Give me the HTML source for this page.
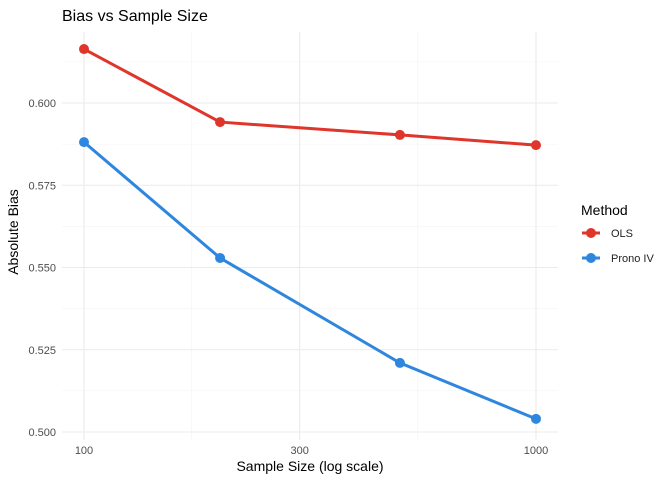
<!DOCTYPE html>
<html><head><meta charset="utf-8"><style>
body{margin:0;background:#fff;font-family:"Liberation Sans",sans-serif}
</style></head><body>
<svg width="672" height="480" xmlns="http://www.w3.org/2000/svg" font-family="Liberation Sans, sans-serif">
<text x="62" y="21" font-size="16" fill="#000">Bias vs Sample Size</text>
<g id="grid"></g>
<g id="marks"></g>
<g id="ticks" font-size="11" fill="#4d4d4d"></g>
<text x="310" y="471" font-size="14" text-anchor="middle">Sample Size (log scale)</text>
<text transform="translate(18,232) rotate(-90)" font-size="14" text-anchor="middle">Absolute Bias</text>
<g>
<text x="581" y="215" font-size="14">Method</text>
<g><line x1="582" y1="233" x2="600" y2="233" stroke="#E0352B" stroke-width="3"/><circle cx="591" cy="233" r="5" fill="#E0352B"/><text x="611" y="237" font-size="11" fill="#222">OLS</text></g>
<g><line x1="582" y1="258" x2="600" y2="258" stroke="#2E86DE" stroke-width="3"/><circle cx="591" cy="258" r="5" fill="#2E86DE"/><text x="611" y="262" font-size="11" fill="#222">Prono IV</text></g>
</g>
</svg>
<script>
const sampleSizes=[100,200,500,1000];
const olsBias=[0.6164,0.5942,0.5903,0.5872];
const pronoBias=[0.5881,0.5529,0.5210,0.5040];
const yTicks=[0.500,0.525,0.550,0.575,0.600];
const yTickLabels=["0.500","0.525","0.550","0.575","0.600"];
const xTicks=[100,300,1000];
const xTickLabels=["100","300","1000"];
const NS="http://www.w3.org/2000/svg";
const L=62,R=558,T=32,B=440;
function xs(v){return 84+(Math.log10(v)-2)*452;}
function ys(v){return 432-(v-0.5)*3290;}
function mk(tag,attrs,parent){const e=document.createElementNS(NS,tag);for(const k in attrs)e.setAttribute(k,attrs[k]);document.getElementById(parent).appendChild(e);return e;}
// minor grid
for(let i=0;i<yTicks.length;i++){const v=yTicks[i]+0.0125;
 const g=mk('line',{x1:L,x2:R,y1:ys(v),y2:ys(v),stroke:'#f2f2f2','stroke-width':0.6},'grid');
 
 }
for(let i=0;i<xTicks.length-1;i++){const v=Math.sqrt(xTicks[i]*xTicks[i+1]);
 const g=mk('line',{x1:xs(v),x2:xs(v),y1:T,y2:B,stroke:'#f2f2f2','stroke-width':0.6},'grid');
 
 }
yTicks.forEach((v,i)=>{
 const g=mk('line',{x1:L,x2:R,y1:ys(v),y2:ys(v),stroke:'#ebebeb','stroke-width':1.1},'grid');
 
 
 const t=mk('text',{x:56,y:ys(v)+4,'text-anchor':'end'},'ticks');t.textContent=yTickLabels[i];
 
 });
xTicks.forEach((v,i)=>{
 const g=mk('line',{x1:xs(v),x2:xs(v),y1:T,y2:B,stroke:'#ebebeb','stroke-width':1.1},'grid');
 
 
 const t=mk('text',{x:xs(v),y:454,'text-anchor':'middle'},'ticks');t.textContent=xTickLabels[i];
 
 });
function series(vals,color,name){
 const p=mk('polyline',{points:sampleSizes.map((s,i)=>xs(s)+','+ys(vals[i])).join(' '),fill:'none',stroke:color,'stroke-width':3},'marks');
 
 
 sampleSizes.forEach((s,i)=>{const c=mk('circle',{cx:xs(s),cy:ys(vals[i]),r:5,fill:color},'marks');
  
  });
}
series(olsBias,'#E0352B','ols');
series(pronoBias,'#2E86DE','prono-iv');
</script>
</body></html>
